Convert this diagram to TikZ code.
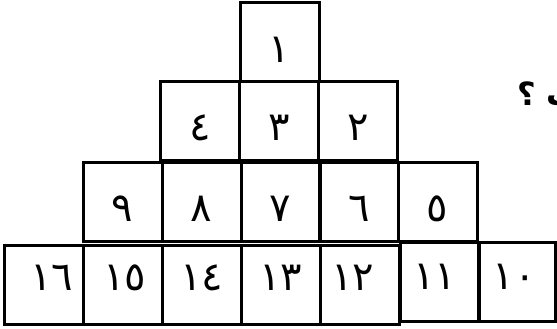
\documentclass[tikz,border=0pt]{standalone}
\usepackage{fontspec}
\newfontfamily\arabicfont[Script=Arabic]{DejaVu Sans}
\TeXXeTstate=1
\begin{document}
\begin{tikzpicture}[x=1pt,y=-1pt,
  cell/.style={draw,line width=3pt,minimum width=79pt,minimum height=79pt,inner sep=0pt,outer sep=0pt},
  num/.style={font=\arabicfont\fontsize{40}{40}\selectfont,inner sep=0pt},
  qtext/.style={font=\arabicfont\bfseries\fontsize{32}{32}\selectfont,inner sep=0pt,anchor=west}]
\useasboundingbox (0,0) rectangle (557,329);
\begin{scope}
\clip (0,0) rectangle (557,329);
% row 1
\node[cell] (b1) at (279.5,42) {};
% row 2
\node[cell] (b4) at (200,121) {};
\node[cell] (b3) at (279,121) {};
\node[cell] (b2) at (358,121) {};
% row 3
\node[cell] (b9) at (122.5,202) {};
\node[cell] (b8) at (201.5,202) {};
\node[cell] (b7) at (280.5,202) {};
\node[cell] (b6) at (359,202) {};
\node[cell] (b5) at (437.5,202) {};
% row 4
\node[cell] (b16) at (44,284.5) {};
\node[cell] (b15) at (123,284.5) {};
\node[cell] (b14) at (202,284.5) {};
\node[cell] (b13) at (281,284.5) {};
\node[cell] (b12) at (360,284.5) {};
\node[cell] (b11) at (439.5,281.5) {};
\node[cell,minimum width=77pt] (b10) at (517,281.5) {};
% numbers
\node[num] (t1) at ([yshift=-8pt]b1.center) {١};
\node[num] (t4) at ([yshift=-7pt]b4.center) {٤};
\node[num] (t3) at ([yshift=-7pt]b3.center) {٣};
\node[num] (t2) at ([yshift=-7pt]b2.center) {٢};
\node[num] (t9) at ([yshift=-7pt]b9.center) {٩};
\node[num] (t8) at ([yshift=-7pt]b8.center) {٨};
\node[num] (t7) at ([yshift=-7pt]b7.center) {٧};
\node[num] (t6) at ([yshift=-7pt]b6.center) {٦};
\node[num] (t5) at ([yshift=-7pt]b5.center) {٥};
\node[num] (t16) at ([xshift=8pt,yshift=7pt]b16.center) {١٦};
\node[num] (t15) at ([xshift=2pt,yshift=7pt]b15.center) {١٥};
\node[num] (t14) at ([yshift=7pt]b14.center) {١٤};
\node[num] (t13) at ([yshift=7pt]b13.center) {١٣};
\node[num] (t12) at ([xshift=-7pt,yshift=7pt]b12.center) {١٢};
\node[num] (t11) at ([xshift=-5pt,yshift=5pt]b11.center) {١١};
\node[num] (t10) at ([xshift=-3pt,yshift=5pt]b10.center) {١٠};
% partial question text
\node[qtext] (q) at (517,96) {\beginR ب ؟\endR};
\end{scope}
\end{tikzpicture}
\end{document}
